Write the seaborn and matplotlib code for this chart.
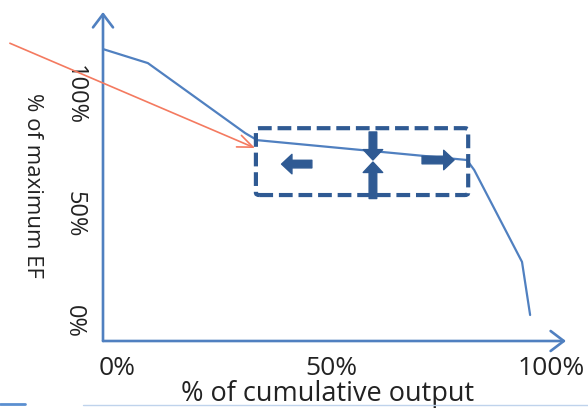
import matplotlib
matplotlib.use("Agg")
import matplotlib.pyplot as plt
import seaborn as sns
import pandas as pd
from matplotlib.patches import FancyBboxPatch, FancyArrowPatch
from matplotlib.lines import Line2D

# schematic EF curve: % of cumulative output vs % of maximum EF
cum_output = [0, 10.5, 33.3, 36.1, 85.2, 86.9, 98.1, 100]
max_ef = [100, 95.2, 71.2, 68.8, 62.0, 58.6, 27.1, 8.9]

# tick labels (placed where the slide put them)
x_tick_pos = [3.4, 53.4, 104.9]
x_tick_labels = ["0%", "50%", "100%"]
y_tick_pos = [84.2, 43.5, 6.8]
y_tick_labels = ["100%", "50%", "0%"]

# highlighted region
box_x = [35.8, 85.5]
box_y = [50.0, 72.9]

curve_blue = "#5080C0"
dark_blue = "#2F5A93"
red = "#F47A60"

sns.set_theme(style="white")
plt.rcParams['font.family'] = ['Open Sans', 'DejaVu Sans']

fig = plt.figure(figsize=(5.88, 4.09), dpi=100)
ax = fig.add_axes([103/588, 68/409, 463/588, 329/409])
ax.set_xlim(0, 108.4)
ax.set_ylim(0, 112.7)
ax.patch.set_alpha(0)
for s in ax.spines.values():
    s.set_visible(False)

df = pd.DataFrame({"output": cum_output, "ef": max_ef})
sns.lineplot(data=df, x="output", y="ef", ax=ax, color=curve_blue, lw=1.6,
             sort=False, estimator=None)

# axes with open arrow heads
axis_arrow = dict(arrowstyle="->,head_length=0.95,head_width=0.72", color=curve_blue,
                  lw=1.9, mutation_scale=10, shrinkA=0, shrinkB=0)
ax.annotate("", xy=(0, 1), xytext=(0, 0), xycoords="axes fraction",
            arrowprops=axis_arrow, annotation_clip=False)
ax.annotate("", xy=(1, 0), xytext=(0, 0), xycoords="axes fraction",
            arrowprops=axis_arrow, annotation_clip=False)

ax.set_xticks(x_tick_pos)
ax.set_xticklabels(x_tick_labels, fontsize=19, color="#222222")
ax.set_yticks(y_tick_pos)
ax.set_yticklabels(y_tick_labels, fontsize=17, color="#222222", rotation=270, va="center")
ax.tick_params(axis="x", length=0, pad=11)
ax.tick_params(axis="y", length=0, pad=12)

ax.set_xlabel("% of cumulative output", fontsize=19.5, color="#222222", va="center")
ax.xaxis.set_label_coords(0.484, -0.162)
ax.set_ylabel("% of maximum EF", fontsize=16, color="#222222", rotation=270,
              va="center", ha="center")
ax.yaxis.set_label_coords(-0.152, 0.474)

# dashed box
box = FancyBboxPatch((box_x[0], box_y[0]), box_x[1] - box_x[0], box_y[1] - box_y[0],
                     boxstyle="round,pad=0,rounding_size=0.8", fill=False,
                     ec=dark_blue, lw=3.0, ls=(0, (3.3, 1.4)), zorder=3)
ax.add_patch(box)

# block arrows inside the box
block = dict(arrowstyle="simple,head_length=0.75,head_width=1.4,tail_width=0.55",
             mutation_scale=10, color=dark_blue, shrinkA=0, shrinkB=0, zorder=4)
ax.add_patch(FancyArrowPatch((48.9, 60.6), (41.8, 60.6), **block))
ax.add_patch(FancyArrowPatch((74.7, 62.0), (82.2, 62.0), **block))
ax.add_patch(FancyArrowPatch((63.2, 71.6), (63.2, 62.0), **block))
ax.add_patch(FancyArrowPatch((63.2, 48.8), (63.2, 61.3), **block))

# red pointer arrow
ax.annotate("", xy=(35.6, 66.1), xytext=(-21.8, 102.0),
            arrowprops=dict(arrowstyle="->,head_length=1.1,head_width=0.45", color=red,
                            lw=1.2, mutation_scale=10, shrinkA=0, shrinkB=0),
            annotation_clip=False)

# slide artefacts along the bottom edge
fig.add_artist(Line2D([0, 25/588], [5/409, 5/409], color="#5B8FD0", lw=2))
fig.add_artist(Line2D([83/588, 1], [4/409, 4/409], color="#BFD3EC", lw=1))

fig.savefig("out.png", dpi=100)
